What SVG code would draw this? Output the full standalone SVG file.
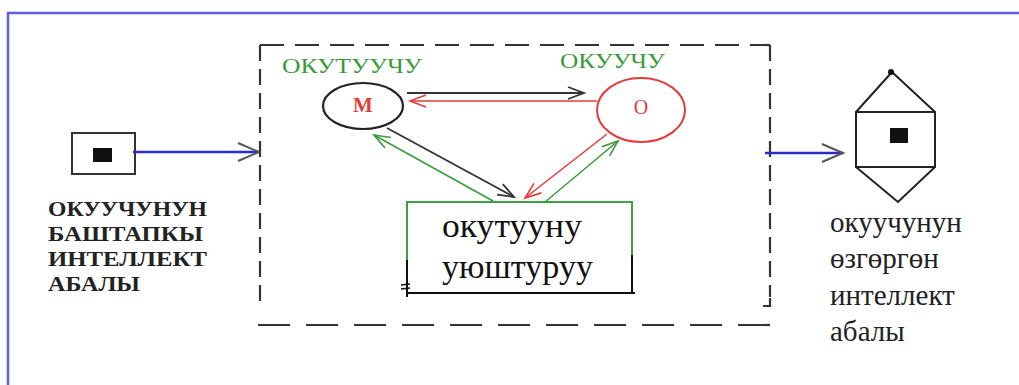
<svg xmlns="http://www.w3.org/2000/svg" width="1019" height="385" viewBox="0 0 1019 385">
<defs>
<marker id="arrGray" markerUnits="userSpaceOnUse" markerWidth="26" markerHeight="22" refX="22" refY="11" orient="auto"><path d="M1,2 L22,11 L1,20" fill="none" stroke="#555" stroke-width="2"/></marker>
<marker id="arrBlack" markerUnits="userSpaceOnUse" markerWidth="20" markerHeight="16" refX="17" refY="8" orient="auto"><path d="M1,2 L17,8 L1,14" fill="none" stroke="#333" stroke-width="1.8"/></marker>
<marker id="arrRed" markerUnits="userSpaceOnUse" markerWidth="20" markerHeight="16" refX="17" refY="8" orient="auto"><path d="M1,2 L17,8 L1,14" fill="none" stroke="#e53a3a" stroke-width="1.6"/></marker>
<marker id="arrGreen" markerUnits="userSpaceOnUse" markerWidth="20" markerHeight="16" refX="17" refY="8" orient="auto"><path d="M1,2 L17,8 L1,14" fill="none" stroke="#3a9a3a" stroke-width="1.6"/></marker>
</defs>
<style>
.frame{fill:none;stroke:#6060dc;stroke-width:2.5}
.dash{fill:none;stroke:#333;stroke-width:2.2}
.bold{font-family:"Liberation Serif",serif;font-weight:bold;font-size:22px;fill:#222}
.green{font-family:"Liberation Serif",serif;font-size:20px;fill:#3a9a3a}
.big{font-family:"Liberation Serif",serif;font-size:34px;fill:#111}
.rt{font-family:"Liberation Serif",serif;font-size:29px;fill:#222}
.blue{stroke:#2a2ad0;stroke-width:2.5;fill:none}
</style>
<rect width="1019" height="385" fill="#fff"/>
<path class="frame" d="M8,385 L8,13 L1019,13"/>

<g id="system">
<path class="dash" d="M260,45 L770,45" stroke-dasharray="24 11"/>
<path class="dash" d="M260,45 L260,302 L264,304" stroke-dasharray="16 8"/>
<path class="dash" d="M770,45 L770,297" stroke-dasharray="16 8"/>
<path class="dash" d="M770,298 L770,306 L763,306"/>
<path class="dash" d="M258,325 L772,325" stroke-dasharray="32 16"/>
</g>

<g id="input">
<rect x="72" y="133" width="63" height="41" fill="#fff" stroke="#333" stroke-width="2"/>
<rect x="93" y="148" width="19" height="14" fill="#111"/>
<text class="bold" x="48" y="216" textLength="159" lengthAdjust="spacingAndGlyphs">ОКУУЧУНУН</text>
<text class="bold" x="48" y="241" textLength="155" lengthAdjust="spacingAndGlyphs">БАШТАПКЫ</text>
<text class="bold" x="48" y="266" textLength="159" lengthAdjust="spacingAndGlyphs">ИНТЕЛЛЕКТ</text>
<text class="bold" x="48" y="291" textLength="92" lengthAdjust="spacingAndGlyphs">АБАЛЫ</text>
</g>

<g id="teacher">
<text class="green" x="282" y="73" textLength="140" lengthAdjust="spacingAndGlyphs">ОКУТУУЧУ</text>
<ellipse cx="363" cy="106" rx="40" ry="23" fill="#fff" stroke="#222" stroke-width="2.2"/>
<text x="363" y="112" text-anchor="middle" font-family="Liberation Serif, serif" font-weight="bold" font-size="21" fill="#e53a3a">М</text>
</g>

<g id="student">
<text class="green" x="560" y="68" textLength="105" lengthAdjust="spacingAndGlyphs">ОКУУЧУ</text>
<ellipse cx="641" cy="110" rx="44" ry="32" fill="#fff" stroke="#e53a3a" stroke-width="2"/>
<text x="641" y="114" text-anchor="middle" font-family="Liberation Serif, serif" font-size="20" fill="#e53a3a">О</text>
</g>

<g id="organization">
<path d="M407,260 L407,202 L632,202 L632,255" fill="none" stroke="#3fa03f" stroke-width="2"/>
<path d="M407,260 L407,297 M632,255 L632,293 M407,293 L635,293" fill="none" stroke="#111" stroke-width="2"/>
<path d="M401,285 L410,284 M401,289 L410,288" stroke="#111" stroke-width="1.5"/>
<text class="big" x="442" y="237" textLength="140" lengthAdjust="spacingAndGlyphs">окутууну</text>
<text class="big" x="442" y="278" textLength="151" lengthAdjust="spacingAndGlyphs">уюштуруу</text>
</g>

<g id="output">
<path d="M892,72 L856,112 M892,72 L935,112" stroke="#222" stroke-width="2" fill="none"/>
<rect x="856" y="112" width="79" height="55" fill="#fff" stroke="#222" stroke-width="2"/>
<path d="M856,167 L898,202 L935,167" stroke="#222" stroke-width="2" fill="none"/>
<circle cx="891" cy="72" r="3" fill="#111"/>
<rect x="890" y="128" width="18" height="15" fill="#111"/>
<text class="rt" x="830" y="232">окуучунун</text>
<text class="rt" x="830" y="268">өзгөргөн</text>
<text class="rt" x="830" y="305">интеллект</text>
<text class="rt" x="830" y="341">абалы</text>
</g>

<g id="connectors">
<line class="blue" x1="133" y1="152" x2="259" y2="152" marker-end="url(#arrGray)"/>
<line class="blue" x1="765" y1="153" x2="843" y2="153" marker-end="url(#arrGray)"/>
<line x1="407" y1="93" x2="584" y2="93" stroke="#333" stroke-width="2" marker-end="url(#arrBlack)"/>
<line x1="597" y1="101" x2="410" y2="101" stroke="#e53a3a" stroke-width="1.5" marker-end="url(#arrRed)"/>
<line x1="387" y1="128" x2="514" y2="197" stroke="#333" stroke-width="1.8" marker-end="url(#arrBlack)"/>
<line x1="493" y1="201" x2="374" y2="135" stroke="#3a9a3a" stroke-width="1.5" marker-end="url(#arrGreen)"/>
<line x1="607" y1="134" x2="525" y2="198" stroke="#e53a3a" stroke-width="1.5" marker-end="url(#arrRed)"/>
<line x1="545" y1="202" x2="618" y2="141" stroke="#3a9a3a" stroke-width="1.5" marker-end="url(#arrGreen)"/>
</g>
</svg>
